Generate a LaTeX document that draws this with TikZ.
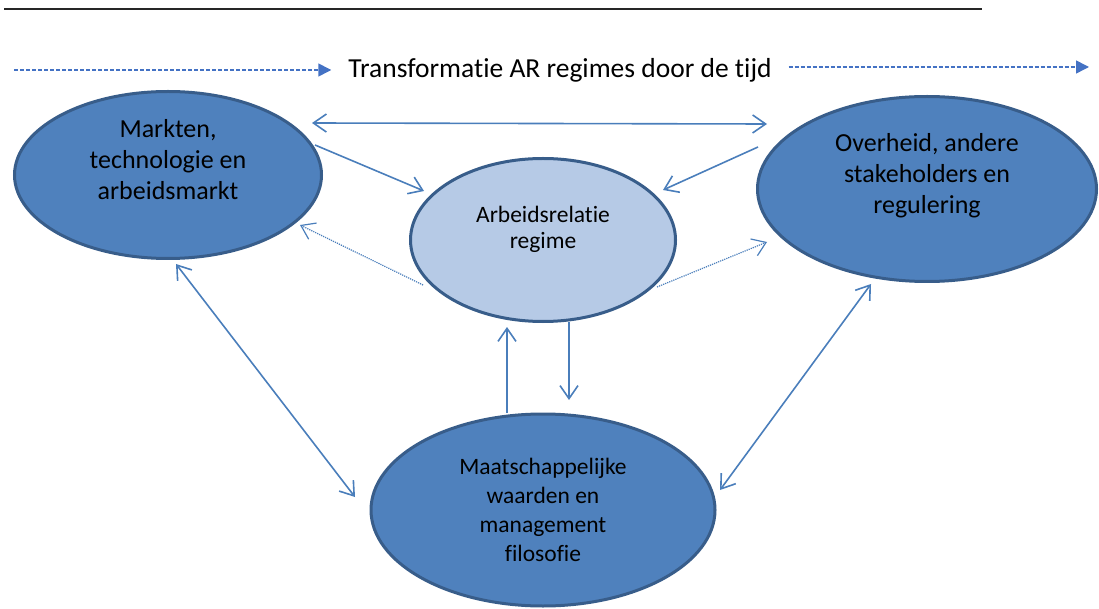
\documentclass[tikz,border=0pt]{standalone}
\usepackage{fontspec}
\setmainfont{Carlito}[Ligatures=CommonOff]
\usetikzlibrary{arrows.meta,shapes.geometric,positioning}
\definecolor{nodeblue}{RGB}{79,129,189}
\definecolor{edgeblue}{RGB}{56,93,138}
\definecolor{coreblue}{RGB}{182,202,230}
\definecolor{linkblue}{RGB}{74,126,187}
\definecolor{timeblue}{RGB}{68,114,196}

\begin{document}
\begin{tikzpicture}[
    x=1pt, y=-1pt, on grid,
    >={Straight Barb[length=13pt,width=18pt]},
    block/.style={ellipse, draw=edgeblue, fill=nodeblue, line width=3pt, inner sep=0pt, align=center, font=\fontsize{26}{31}\selectfont},
    core/.style={ellipse, draw=edgeblue, fill=coreblue, line width=3pt, inner sep=0pt, align=center, font=\fontsize{23.5}{26}\selectfont},
    link/.style={draw=linkblue, line width=1.6pt},
    weak/.style={link, line width=1.2pt, densely dotted},
    timeline/.style={draw=timeblue, line width=1.5pt, dash pattern=on 4pt off 2pt, -{Triangle[length=13pt,width=13pt]}}
]
\useasboundingbox (0,0) rectangle (1099,609);

% Header rule
\draw[line width=2pt, black!85] (4,9) -- (982,9);

% Time axis
\node[font=\fontsize{27.5}{33}\selectfont, inner xsep=17pt, anchor=base] (tijd) at (560,78) {Transformatie AR regimes door de tijd};
\coordinate (t0) at (14,70);
\coordinate (t1) at (1089,67);
\draw[timeline] (t0) -- (t0 -| tijd.west);
\draw[timeline] (tijd.east |- t1) -- (t1);

% Regime
\node[core, minimum width=265pt, minimum height=163pt] (regime) at (543,240) {Arbeidsrelatie\\regime\\\mbox{}};

% Surrounding forces
\node[block, minimum width=307pt, minimum height=167pt, above left=65pt and 375pt of regime] (markt) {Markten,\\technologie en\\arbeidsmarkt\\\mbox{}};
\node[block, minimum width=339pt, minimum height=185pt, above right=51pt and 384pt of regime] (overheid) {Overheid, andere\\stakeholders en\\regulering\\\mbox{}};
\node[block, minimum width=344pt, minimum height=192pt, below=270pt of regime, font=\fontsize{23.5}{29}\selectfont] (waarden) {Maatschappelijke\\waarden en\\management\\filosofie};

% Arrows
\draw[link, <->] ([shift={(144,-52)}]markt.center) -- ([shift={(-160,-65)}]overheid.center);
\draw[link, ->] ([shift={(147,-30)}]markt.center) -- ([shift={(-119,-49)}]regime.center);
\draw[link, ->] ([shift={(-169,-42)}]overheid.center) -- ([shift={(120,-50)}]regime.center);
\draw[weak, ->] ([shift={(-120,45)}]regime.center) -- ([shift={(132,50)}]markt.center);
\draw[weak, ->] ([shift={(114,47)}]regime.center) -- ([shift={(-160,53)}]overheid.center);
\draw[link, <->] ([shift={(8,89)}]markt.center) -- ([shift={(-188,-13)}]waarden.center);
\draw[link, <->] ([shift={(-56,95)}]overheid.center) -- ([shift={(177,-20)}]waarden.center);
\draw[link, ->] ([shift={(-36,-97)}]waarden.center) -- ([shift={(-36,87)}]regime.center);
\draw[link, ->] ([shift={(26,82)}]regime.center) -- ([shift={(26,-110)}]waarden.center);

\end{tikzpicture}
\end{document}
